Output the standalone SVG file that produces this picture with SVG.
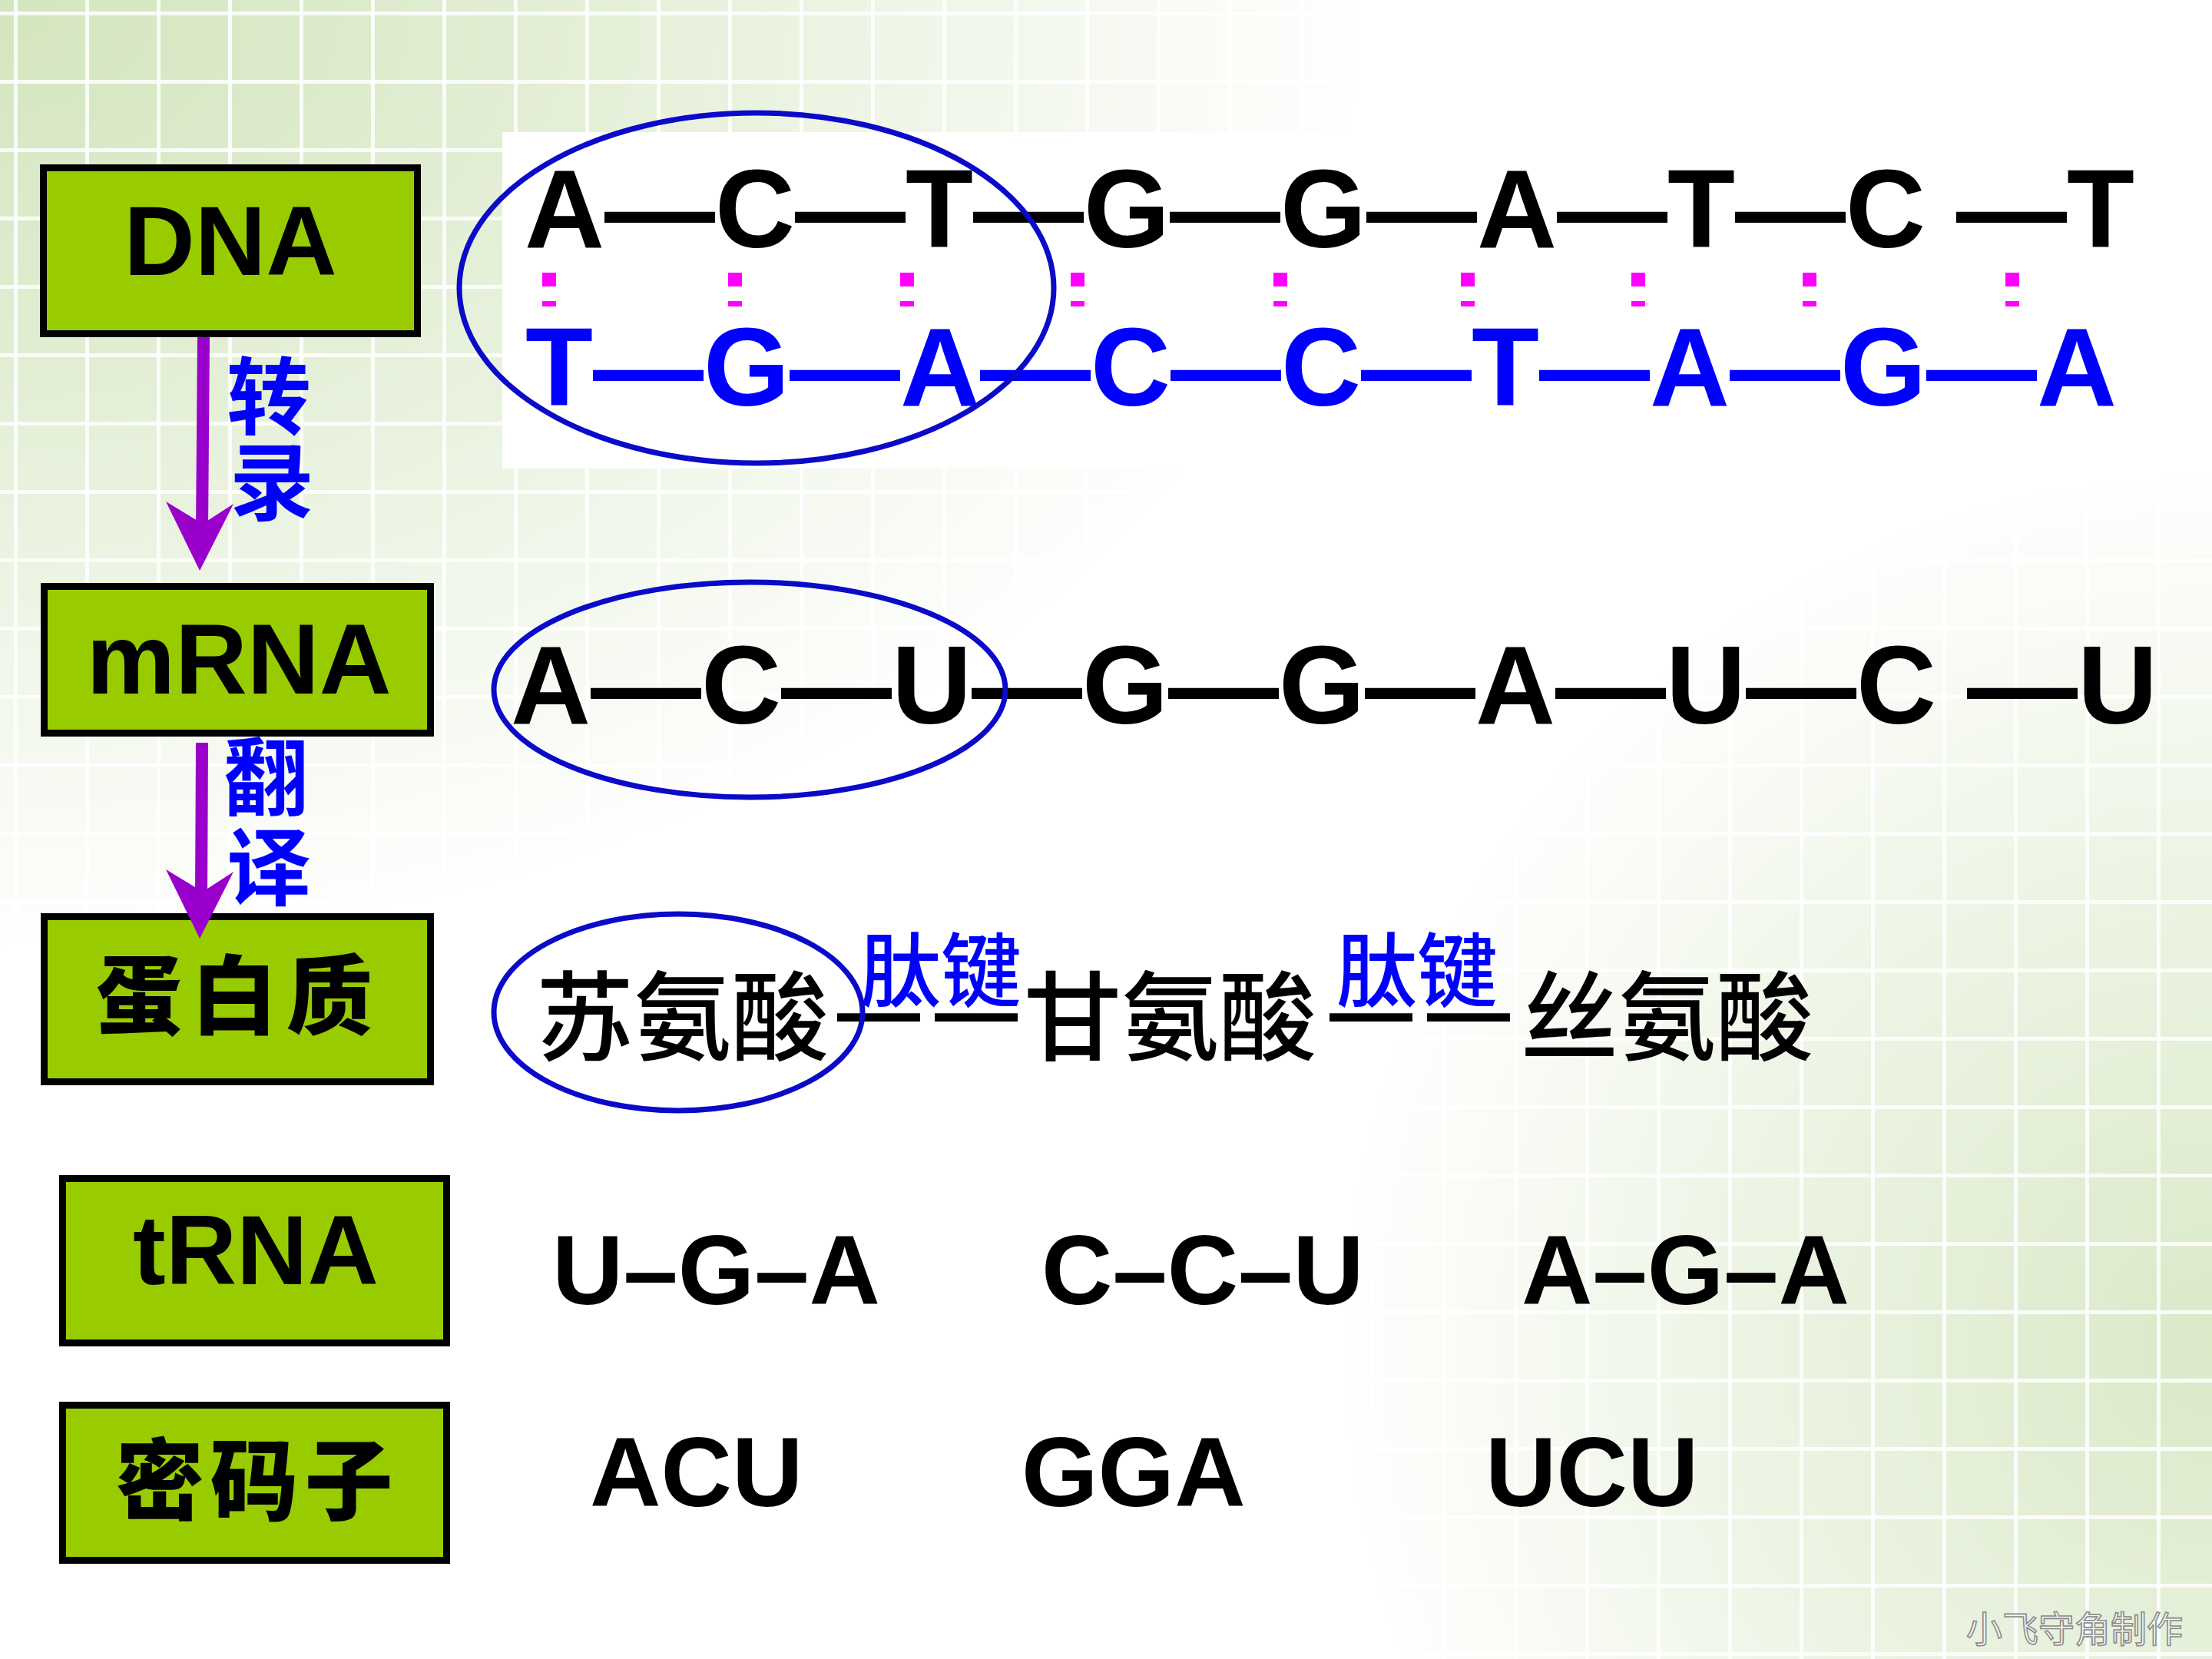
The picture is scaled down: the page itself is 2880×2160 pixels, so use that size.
<svg xmlns="http://www.w3.org/2000/svg" width="2880" height="2160" viewBox="0 0 2880 2160">
<style>
.box{fill:#99CC00;stroke:#000;stroke-width:9}
.lat{font-family:"Liberation Sans",Arial,sans-serif;font-weight:bold}
.cjk{font-family:"Noto Sans CJK SC",sans-serif}
.seq{font-size:144px}
.blk{fill:#000}
.blue{fill:#0000FF}
.bond{fill:#FF00FF}
.ell{fill:none;stroke:#0A0AC8;stroke-width:7}
.shaft{stroke:#9900CC;stroke-width:16;fill:none}
.ahead{fill:#9900CC}
.wm{font-family:"Noto Sans CJK SC",sans-serif;font-size:47px;fill:#f6f6f6;stroke:#8a8a8a;stroke-width:1.6}
</style>
<defs>
<pattern id="grid" patternUnits="userSpaceOnUse" x="18" y="15" width="93" height="89">
<rect width="93" height="89" fill="#D3E5BE"/>
<rect width="93" height="5" fill="#FFFFFF" opacity="0.85"/>
<rect width="5" height="89" fill="#FFFFFF" opacity="0.85"/>
</pattern>
<radialGradient id="gTL" cx="0" cy="0" r="1" fx="0" fy="0">
<stop offset="0" stop-color="#fff" stop-opacity="1"/>
<stop offset="0.35" stop-color="#fff" stop-opacity="0.7"/>
<stop offset="1" stop-color="#fff" stop-opacity="0"/>
</radialGradient>
<radialGradient id="gR" gradientUnits="userSpaceOnUse" cx="2880" cy="1750" r="1150">
<stop offset="0" stop-color="#fff" stop-opacity="0.85"/>
<stop offset="0.5" stop-color="#fff" stop-opacity="0.45"/>
<stop offset="1" stop-color="#fff" stop-opacity="0"/>
</radialGradient>
<mask id="bgmask" maskUnits="userSpaceOnUse" x="0" y="0" width="2880" height="2160">
<rect width="2880" height="2160" fill="#000"/>
<rect x="0" y="0" width="1800" height="1250" fill="url(#gTL)"/>
<rect x="1700" y="500" width="1180" height="1660" fill="url(#gR)"/>
</mask>
<path id="arrowhead" d="M0,0 L-44,-90 L4,-61 L44,-87 Z"/>
</defs>

<g id="background">
<rect width="2880" height="2160" fill="#FFFFFF"/>
<rect width="2880" height="2160" fill="url(#grid)" mask="url(#bgmask)"/>
<rect x="654" y="172" width="2226" height="438" fill="#FFFFFF"/>
</g>

<g id="node-dna">
<rect class="box" x="56.5" y="218.5" width="487" height="216"/>
<text class="lat" x="300" y="358" font-size="128" text-anchor="middle">DNA</text>
</g>
<g id="node-mrna">
<rect class="box" x="57.5" y="763.5" width="503" height="191"/>
<text class="lat" x="311" y="903" font-size="130" text-anchor="middle">mRNA</text>
</g>
<g id="node-protein">
<rect class="box" x="57.5" y="1193.5" width="503" height="215"/>
<text class="cjk" x="311" y="1338" font-size="112" font-weight="900" letter-spacing="12" text-anchor="middle">蛋白质</text>
</g>
<g id="node-trna">
<rect class="box" x="81.5" y="1534.5" width="500" height="214"/>
<text class="lat" x="333" y="1672" font-size="128" text-anchor="middle">tRNA</text>
</g>
<g id="node-codon">
<rect class="box" x="81.5" y="1829.5" width="500" height="202"/>
<text class="cjk" x="335" y="1970" font-size="115" font-weight="900" letter-spacing="8" text-anchor="middle">密码子</text>
</g>

<g id="connectors">
<line class="shaft" x1="265" y1="439" x2="263" y2="690"/>
<use href="#arrowhead" class="ahead" transform="translate(260,743)"/>
<line class="shaft" x1="263" y1="967" x2="262" y2="1170"/>
<use href="#arrowhead" class="ahead" transform="translate(260,1222)"/>
</g>

<g id="process-labels" class="cjk blue" font-size="110" font-weight="700" text-anchor="middle">
<text x="350" y="557">转</text>
<text x="354" y="669">录</text>
<text x="346" y="1053">翻</text>
<text x="350" y="1170">译</text>
</g>

<g id="dna-strands">
<text class="lat seq blk" x="683" y="322">A—C—T—G—G—A—T—C —T</text>
<g id="h-bonds" class="bond">
<rect x="706" y="355" width="18" height="18"/><rect x="706" y="392" width="18" height="7"/>
<rect x="948" y="355" width="18" height="18"/><rect x="948" y="392" width="18" height="7"/>
<rect x="1172" y="355" width="18" height="18"/><rect x="1172" y="392" width="18" height="7"/>
<rect x="1394" y="355" width="18" height="18"/><rect x="1394" y="392" width="18" height="7"/>
<rect x="1658" y="355" width="18" height="18"/><rect x="1658" y="392" width="18" height="7"/>
<rect x="1902" y="355" width="18" height="18"/><rect x="1902" y="392" width="18" height="7"/>
<rect x="2124" y="355" width="18" height="18"/><rect x="2124" y="392" width="18" height="7"/>
<rect x="2347" y="355" width="18" height="18"/><rect x="2347" y="392" width="18" height="7"/>
<rect x="2611" y="355" width="18" height="18"/><rect x="2611" y="392" width="18" height="7"/>
</g>
<text class="lat seq blue" x="684" y="528">T—G—A—C—C—T—A—G—A</text>
<ellipse class="ell" cx="985" cy="375" rx="387" ry="228"/>
</g>

<g id="mrna-strand">
<text class="lat blk" x="665" y="942" font-size="144">A—C—U—G—G—A—U—C —U</text>
<ellipse class="ell" cx="976" cy="898" rx="333" ry="140"/>
</g>

<g id="peptide">
<text class="cjk blk" y="1371" font-size="127" font-weight="500"><tspan x="698">苏氨酸</tspan><tspan x="1333">甘氨酸</tspan><tspan x="1980">丝氨酸</tspan></text>
<text class="lat blk" y="1354" font-size="108"><tspan x="1090">—</tspan><tspan x="1217">—</tspan><tspan x="1731">—</tspan><tspan x="1858">—</tspan></text>
<text class="cjk blue" y="1302" font-size="105" font-weight="500"><tspan x="1120">肽键</tspan><tspan x="1740">肽键</tspan></text>
<ellipse class="ell" cx="883" cy="1318" rx="240" ry="128"/>
</g>

<g id="anticodons" class="lat blk" font-size="128">
<text x="719" y="1698">U–G–A</text>
<text x="1356" y="1698">C–C–U</text>
<text x="1981" y="1698">A–G–A</text>
</g>

<g id="codons" class="lat blk" font-size="128">
<text x="768" y="1961">ACU</text>
<text x="1330" y="1961">GGA</text>
<text x="1934" y="1961">UCU</text>
</g>

<text class="wm" x="2560" y="2138">小飞守角制作</text>
</svg>
